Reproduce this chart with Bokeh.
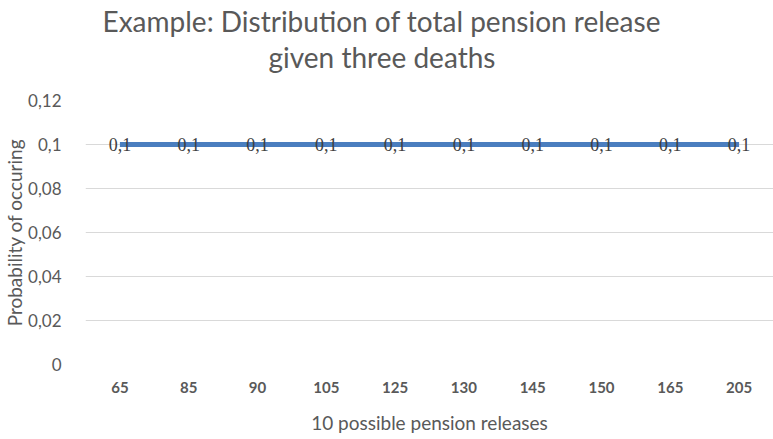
from bokeh.plotting import figure
from bokeh.models import ColumnDataSource, FixedTicker, CustomJSTickFormatter, LabelSet, Title
from bokeh.embed import file_html
from bokeh.resources import INLINE

# ---- data ----
releases = ["65", "85", "90", "105", "125", "130", "145", "150", "165", "205"]
probabilities = [0.1, 0.1, 0.1, 0.1, 0.1, 0.1, 0.1, 0.1, 0.1, 0.1]
y_ticks = [0, 0.02, 0.04, 0.06, 0.08, 0.10, 0.12]
title_lines = ["Example: Distribution of total pension release", "given three deaths"]
x_title = "10 possible pension releases"
y_title = "Probability of occuring"

labels = [("%g" % v).replace(".", ",") for v in probabilities]
src = ColumnDataSource(dict(x=releases, y=probabilities, lbl=labels))

FONT = "Lato"
GRAY = "#595959"

p = figure(x_range=releases, y_range=(0, 0.12), width=773, height=439,
           output_backend="svg", toolbar_location=None,
           min_border_left=82, min_border_right=0, min_border_top=100, min_border_bottom=75)
p.outline_line_color = None
p.background_fill_color = "white"
p.border_fill_color = "white"

p.xgrid.grid_line_color = None
p.ygrid.grid_line_color = "#d9d9d9"
p.ygrid.grid_line_width = 1

p.yaxis.ticker = FixedTicker(ticks=y_ticks)
p.yaxis.formatter = CustomJSTickFormatter(code="""
let s = tick.toFixed(2).replace(/0+$/, '').replace(/\\.$/, '');
return s.replace('.', ',');
""")
for ax in (p.xaxis, p.yaxis):
    ax.axis_line_color = None
    ax.major_tick_line_color = None
    ax.minor_tick_line_color = None
    ax.major_tick_out = 0
    ax.major_tick_in = 0
    ax.major_label_text_font = FONT
    ax.major_label_text_color = GRAY
    ax.axis_label_text_font = FONT
    ax.axis_label_text_color = GRAY
    ax.axis_label_text_font_style = "normal"
    ax.axis_label_text_font_size = "19px"

p.yaxis.major_label_text_font_size = "17px"
p.yaxis.major_label_standoff = 24
p.yaxis.axis_label = y_title
p.yaxis.axis_label_standoff = -1

p.xaxis.major_label_text_font_size = "15px"
p.xaxis.major_label_text_font_style = "bold"
p.xaxis.major_label_standoff = 17
p.xaxis.axis_label = x_title
p.xaxis.axis_label_standoff = 15

p.line(x="x", y="y", source=src, line_color="#4a7ebf", line_width=5)

p.add_layout(LabelSet(x="x", y="y", text="lbl", source=src, text_align="center",
                      text_baseline="middle", text_font=FONT, text_font_size="18px",
                      text_color="#404040"))

# blank spacer between the second title line and the plot area
spacer = Title(text=" ", standoff=24, text_font_size="1px")
t2 = Title(text=title_lines[1], align="left", offset=183, standoff=0,
           text_font=FONT, text_font_size="28px", text_color=GRAY, text_font_style="normal")
t1 = Title(text=title_lines[0], align="left", offset=17, standoff=0,
           text_font=FONT, text_font_size="28px", text_color=GRAY, text_font_style="normal")
p.add_layout(spacer, "above")
p.add_layout(t2, "above")
p.add_layout(t1, "above")

open("out.html", "w").write(file_html(p, INLINE))
